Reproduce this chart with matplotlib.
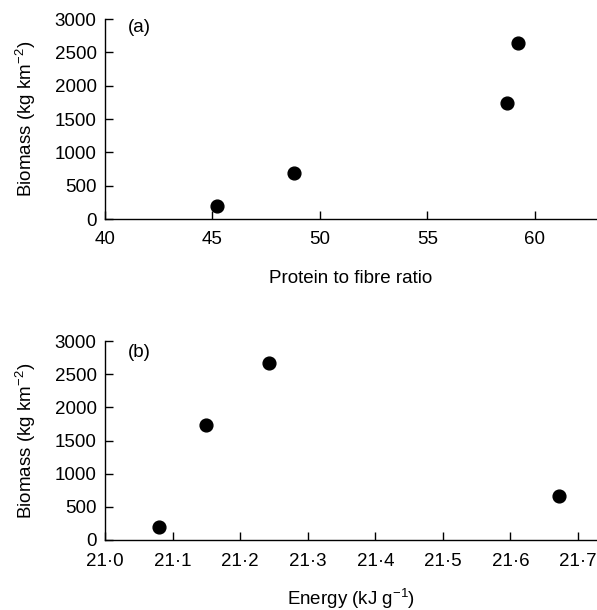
import numpy as np
import matplotlib
matplotlib.use("Agg")
import matplotlib.pyplot as plt
from matplotlib.ticker import FuncFormatter

# Data
ratio = [45.2, 48.8, 58.7, 59.2]
biomass_a = [200, 685, 1745, 2635]

energy = [21.08, 21.149, 21.242, 21.672]
biomass_b = [200, 1734, 2665, 668]

ratio_ticks = [40, 45, 50, 55, 60]
energy_ticks = [21.0, 21.1, 21.2, 21.3, 21.4, 21.5, 21.6, 21.7]
biomass_ticks = [0, 500, 1000, 1500, 2000, 2500, 3000]

plt.rcParams['font.family'] = ['Liberation Sans', 'DejaVu Sans']
plt.rcParams['font.size'] = 13.5
plt.rcParams['mathtext.fontset'] = 'custom'
plt.rcParams['mathtext.rm'] = 'Liberation Sans'

fig = plt.figure(figsize=(5.97, 6.10), dpi=100)
W, H = 597.0, 610.0


def style(ax):
    for s in ['top', 'right']:
        ax.spines[s].set_visible(False)
    for s in ['left', 'bottom']:
        ax.spines[s].set_linewidth(1.0)
    ax.tick_params(direction='in', length=6, width=1.0, labelsize=13.5)
    ax.tick_params(axis='x', pad=9)
    ax.tick_params(axis='y', pad=6)
    ax.set_yticks(biomass_ticks)
    ax.set_ylim(0, 3000)
    ax.set_ylabel('Biomass (kg km$^{-2}$)', fontsize=13.5)
    ax.yaxis.set_label_coords(-0.136, 0.5)


# Panel (a)
ax1 = fig.add_axes([105 / W, 1 - 219 / H, 492 / W, 200 / H])
ax1.plot(ratio, biomass_a, 'o', color='black', markersize=9.2, clip_on=False)
ax1.set_xlim(40, 62.9)
ax1.set_xticks(ratio_ticks)
style(ax1)
ax1.set_xlabel('Protein to fibre ratio', fontsize=13.5)
ax1.xaxis.set_label_coords(0.5, -0.255)
ax1.text(0.047, 0.955, '(a)', transform=ax1.transAxes, fontsize=13.5,
         ha='left', va='center')

# Panel (b)
ax2 = fig.add_axes([105 / W, 1 - 540 / H, 492 / W, 199 / H])
ax2.plot(energy, biomass_b, 'o', color='black', markersize=9.2, clip_on=False)
ax2.set_xlim(21.0, 21.728)
ax2.set_xticks(energy_ticks)
ax2.xaxis.set_major_formatter(FuncFormatter(lambda v, p: f'{v:.1f}'.replace('.', '\u00b7')))
style(ax2)
ax2.set_xlabel('Energy (kJ g$^{-1}$)', fontsize=13.5)
ax2.xaxis.set_label_coords(0.5, -0.232)
ax2.text(0.047, 0.941, '(b)', transform=ax2.transAxes, fontsize=13.5,
         ha='left', va='center')

fig.savefig('out.png', dpi=100)
